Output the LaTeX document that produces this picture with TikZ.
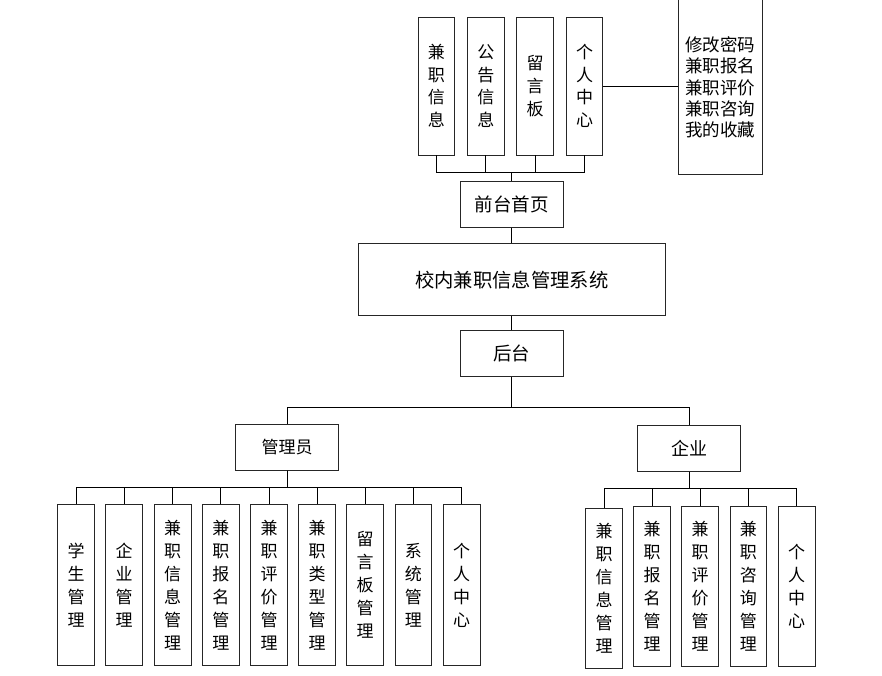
\documentclass[tikz,border=0pt]{standalone}
\usepackage{fontspec}
\newfontfamily\cjk{Noto Sans CJK SC}
\begin{document}
\begin{tikzpicture}[x=1pt,y=-1pt,
  box/.style={draw=black!85, line width=0.8pt, inner sep=0pt, align=center,
    font=\cjk\fontsize{17}{23}\selectfont},
  vbox/.style={box, minimum width=36.7pt},
  hbox/.style={box, minimum width=103pt, minimum height=46pt,
    font=\cjk\fontsize{17}{20}\selectfont},
  conn/.style={draw=black, line width=0.9pt}]
\useasboundingbox (0,0) rectangle (882,676);

% front part
\node[vbox, minimum height=138pt, font=\cjk\fontsize{17}{22.7}\selectfont] (t1) at (436.3,86) {兼\\职\\信\\息};
\node[vbox, minimum height=138pt, font=\cjk\fontsize{17}{22.7}\selectfont] (t2) at (485.8,86) {公\\告\\信\\息};
\node[vbox, minimum height=138pt, font=\cjk\fontsize{17}{22.7}\selectfont] (t3) at (535,86) {留\\言\\板};
\node[vbox, minimum height=138pt, font=\cjk\fontsize{17}{22.7}\selectfont] (t4) at (584.5,86) {个\\人\\中\\心};
\node[box, minimum width=84.7pt, minimum height=175pt,
  font=\cjk\fontsize{17.5}{21.3}\selectfont] (rb) at (720.3,87.3)
  {修改密码\\兼职报名\\兼职评价\\兼职咨询\\我的收藏};
\node[hbox, font=\cjk\fontsize{18.5}{20}\selectfont] (front) at (511.8,204.2) {前台首页};
\node[box, minimum width=307.7pt, minimum height=72pt,
  font=\cjk\fontsize{19.3}{20}\selectfont] (sys) at (511.8,279.7) {校内兼职信息管理系统};
\node[hbox, font=\cjk\fontsize{18.5}{20}\selectfont] (back) at (511.8,353.7) {后台};
\node[hbox] (mgr) at (287.2,447.3) {管理员};
\node[hbox, font=\cjk\fontsize{18}{20}\selectfont] (ent) at (689.3,448.5) {企业};

\coordinate (fb) at (511.8,172.3);
\coordinate (bb) at (511.8,407);
\coordinate (mb) at (287.2,487.3);
\coordinate (eb) at (689.3,488.7);

% admin children
\foreach \n/\x/\t in {m1/76/学\\生\\管\\理, m2/124/企\\业\\管\\理,
  m3/172.7/兼\\职\\信\\息\\管\\理, m4/220.8/兼\\职\\报\\名\\管\\理,
  m5/269/兼\\职\\评\\价\\管\\理, m6/317/兼\\职\\类\\型\\管\\理,
  m7/365.2/留\\言\\板\\管\\理, m8/413.3/系\\统\\管\\理, m9/461.7/个\\人\\中\\心}
  \node[vbox, minimum height=161pt] (\n) at (\x,585.2) {\t};

% enterprise children
\node[vbox, minimum height=160.7pt] (e1) at (604,588.3) {兼\\职\\信\\息\\管\\理};
\foreach \n/\x/\t in {e2/652/兼\\职\\报\\名\\管\\理, e3/700/兼\\职\\评\\价\\管\\理,
  e4/748.3/兼\\职\\咨\\询\\管\\理, e5/796.7/个\\人\\中\\心}
  \node[vbox, minimum height=160.4pt] (\n) at (\x,586.5) {\t};

% connectors
\foreach \c in {t1,t2,t3,t4}
  \draw[conn] (front.north) -- (fb) -| (\c.south);
\draw[conn] (t4.east) -- (t4.east -| rb.west);
\draw[conn] (front.south) -- (sys.north);
\draw[conn] (sys.south) -- (back.north);
\draw[conn] (back.south) -- (bb) -| (mgr.north);
\draw[conn] (back.south) -- (bb) -| (ent.north);
\foreach \c in {m1,m2,m3,m4,m5,m6,m7,m8,m9}
  \draw[conn] (mgr.south) -- (mb) -| (\c.north);
\foreach \c in {e1,e2,e3,e4,e5}
  \draw[conn] (ent.south) -- (eb) -| (\c.north);
\end{tikzpicture}
\end{document}
